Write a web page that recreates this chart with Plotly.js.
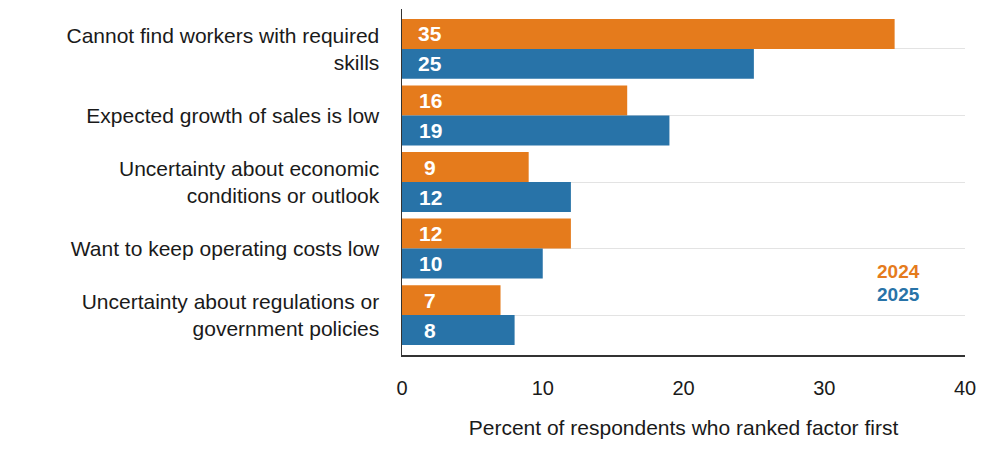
<!DOCTYPE html>
<html>
<head>
<meta charset="utf-8">
<script src="https://cdn.plot.ly/plotly-3.0.1.min.js"></script>
<style>html,body{margin:0;padding:0;background:#fff;}#chart{width:991px;height:457px;}</style>
</head>
<body>
<div id="chart"></div>
<script>
const categories = [
  "Cannot find workers with required<br>skills",
  "Expected growth of sales is low",
  "Uncertainty about economic<br>conditions or outlook",
  "Want to keep operating costs low",
  "Uncertainty about regulations or<br>government policies"
];
const values2024 = [35, 16, 9, 12, 7];
const values2025 = [25, 19, 12, 10, 8];
const seriesNames = ["2024", "2025"];
const xTicks = [0, 10, 20, 30, 40];
const xTitle = "Percent of respondents who ranked factor first";

const orange = "#E57B1C";
const blue = "#2873A8";
const font = "Liberation Sans, Arial, sans-serif";

const traces = [
  {type: "bar", orientation: "h", name: seriesNames[0], y: categories, x: values2024,
   marker: {color: orange}, hoverinfo: "skip"},
  {type: "bar", orientation: "h", name: seriesNames[1], y: categories, x: values2025,
   marker: {color: blue}, hoverinfo: "skip"}
];

const annotations = [];
categories.forEach((c, i) => {
  annotations.push({x: 2, y: c, xref: "x", yref: "y", yshift: 15, text: String(values2024[i]),
    showarrow: false, font: {family: font, size: 21, color: "#fff", weight: "bold"},
    xanchor: "center", yanchor: "middle"});
  annotations.push({x: 2, y: c, xref: "x", yref: "y", yshift: -15, text: String(values2025[i]),
    showarrow: false, font: {family: font, size: 21, color: "#fff", weight: "bold"},
    xanchor: "center", yanchor: "middle"});
});
annotations.push({x: 35.25, y: 0.24, xref: "x", yref: "paper", text: "<b>" + seriesNames[0] + "</b>",
  showarrow: false, xanchor: "center", yanchor: "middle", font: {family: font, size: 19, color: orange}});
annotations.push({x: 35.25, y: 0.1756, xref: "x", yref: "paper", text: "<b>" + seriesNames[1] + "</b>",
  showarrow: false, xanchor: "center", yanchor: "middle", font: {family: font, size: 19, color: blue}});

const layout = {
  width: 991, height: 457,
  margin: {l: 402, r: 26, t: 9, b: 102, pad: 0},
  paper_bgcolor: "#fff", plot_bgcolor: "#fff",
  barmode: "group", bargap: 0.1, bargroupgap: 0,
  showlegend: false,
  font: {family: font, size: 21, color: "#1a1a1a"},
  xaxis: {
    range: [0, 40], tickvals: xTicks, ticktext: xTicks.map(String),
    showgrid: false, zeroline: false,
    showline: true, linecolor: "#333", linewidth: 1.5,
    ticks: "outside", ticklen: 14, tickcolor: "rgba(0,0,0,0)",
    tickfont: {family: font, size: 20, color: "#1a1a1a"},
    title: {text: xTitle, font: {family: font, size: 21, color: "#1a1a1a"}, standoff: 23},
    fixedrange: true
  },
  yaxis: {
    range: [4.6, -0.6], type: "category",
    showgrid: true, gridcolor: "#e3e3e3", gridwidth: 1,
    showline: true, linecolor: "#333", linewidth: 1.5,
    ticks: "outside", ticklen: 17, tickcolor: "rgba(0,0,0,0)",
    tickfont: {family: font, size: 21, color: "#1a1a1a"},
    zeroline: false, fixedrange: true
  },
  annotations: annotations
};

Plotly.newPlot("chart", traces, layout, {staticPlot: true, displayModeBar: false});
</script>
</body>
</html>
